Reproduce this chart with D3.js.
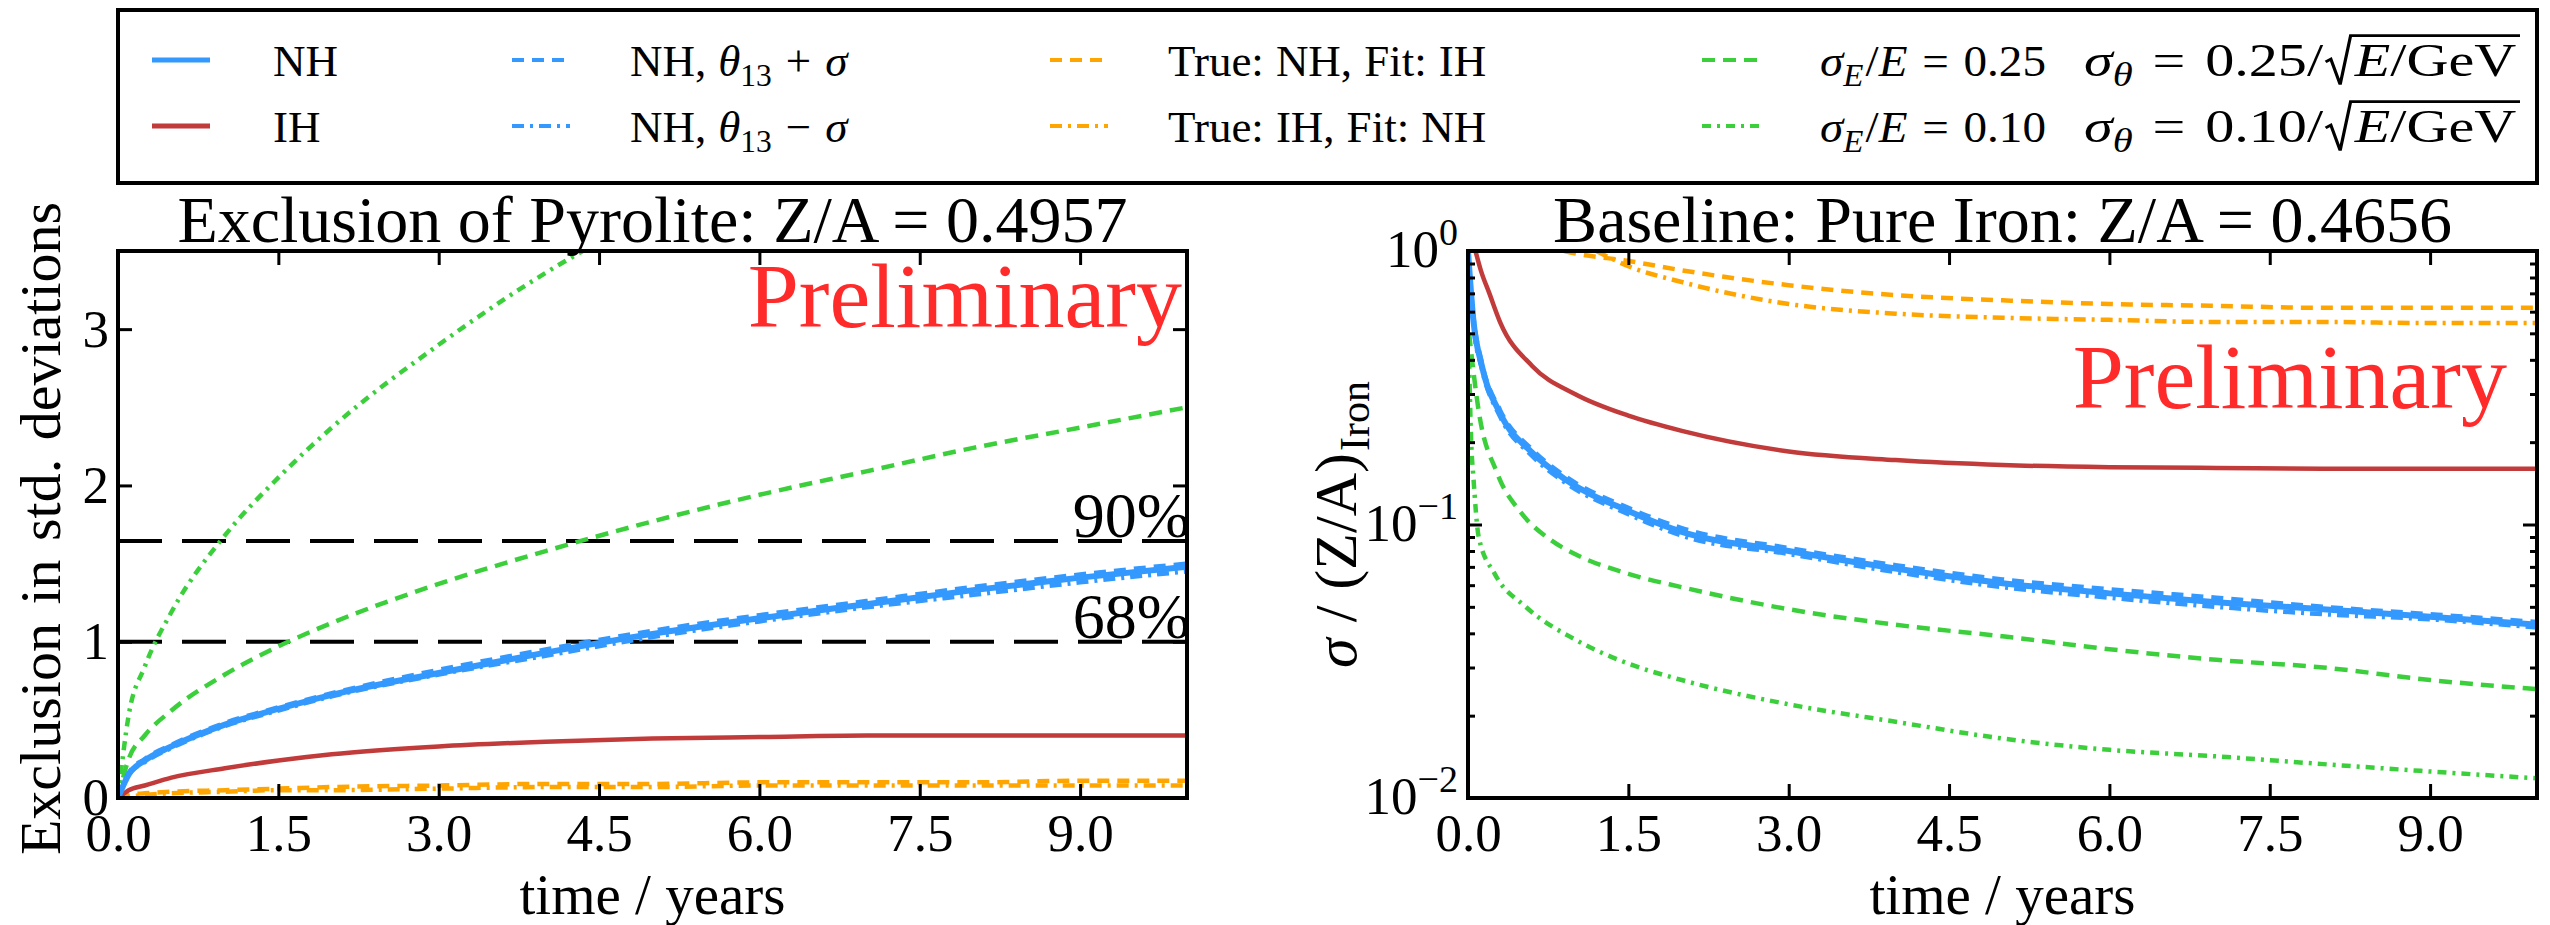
<!DOCTYPE html>
<html><head><meta charset="utf-8">
<script src="https://cdn.jsdelivr.net/npm/d3@7"></script>
<style>
body{margin:0;background:#fff}
svg{display:block}
text{font-family:"Liberation Serif","Tinos","Times New Roman","DejaVu Serif",serif;fill:#000}
</style>
</head><body>
<svg id="c" width="2550" height="925"></svg>
<script>
// ---------------- DATA ----------------
// Left panel: exclusion of pyrolite (std. deviations) vs time (years)
const tLeft = [0, 0.1, 0.25, 0.5, 1, 1.5, 2, 3, 4, 5, 6, 7, 8, 9, 10];
const exclNH        = [0, 0.15, 0.24, 0.33, 0.47, 0.57, 0.66, 0.80, 0.93, 1.05, 1.15, 1.24, 1.33, 1.41, 1.48];
const exclNHplus    = [0, 0.16, 0.25, 0.34, 0.48, 0.58, 0.67, 0.82, 0.95, 1.07, 1.17, 1.26, 1.35, 1.43, 1.50];
const exclNHminus   = [0, 0.15, 0.23, 0.32, 0.46, 0.56, 0.65, 0.79, 0.91, 1.03, 1.13, 1.22, 1.30, 1.38, 1.45];
const exclIH        = [0, 0.05, 0.08, 0.13, 0.19, 0.24, 0.28, 0.33, 0.36, 0.38, 0.39, 0.40, 0.40, 0.40, 0.40];
const exclTrueNHFitIH = [0, 0.02, 0.03, 0.04, 0.05, 0.06, 0.07, 0.08, 0.09, 0.09, 0.10, 0.10, 0.10, 0.11, 0.11];
const exclTrueIHFitNH = [0, 0.01, 0.02, 0.03, 0.04, 0.05, 0.05, 0.06, 0.07, 0.07, 0.08, 0.08, 0.08, 0.08, 0.08];
const exclRes25     = [0, 0.25, 0.40, 0.56, 0.79, 0.97, 1.12, 1.37, 1.58, 1.77, 1.94, 2.09, 2.24, 2.37, 2.50];
const tLeftRes10    = [0, 0.1, 0.25, 0.5, 1, 1.5, 2, 3, 4, 4.5];
const exclRes10     = [0, 0.53, 0.84, 1.19, 1.68, 2.05, 2.37, 2.90, 3.36, 3.56];
const confLevels    = [1.0, 1.645];
const confLabels    = ["68%", "90%"];

// Right panel: sigma / (Z/A)_Iron vs time (years), log scale
const tRightNH  = [0, 0.05, 0.13, 0.3, 0.6, 0.9, 1.5, 2, 3, 4, 5, 6, 7, 8, 9, 10];
const sigNH      = [1.0, 0.56, 0.38, 0.255, 0.183, 0.147, 0.112, 0.094, 0.080, 0.069, 0.061, 0.056, 0.052, 0.049, 0.046, 0.043];
const sigNHplus  = [1.0, 0.58, 0.39, 0.262, 0.188, 0.151, 0.115, 0.097, 0.082, 0.071, 0.063, 0.058, 0.054, 0.050, 0.047, 0.044];
const sigNHminus = [1.0, 0.54, 0.37, 0.248, 0.178, 0.143, 0.109, 0.091, 0.078, 0.067, 0.059, 0.054, 0.050, 0.047, 0.045, 0.042];
const tRightIH  = [0.07, 0.12, 0.2, 0.3, 0.6, 1, 1.5, 2, 3, 4, 5, 6, 7, 8, 9, 10];
const sigIH      = [1.0, 0.85, 0.70, 0.55, 0.38, 0.30, 0.25, 0.22, 0.185, 0.172, 0.165, 0.162, 0.161, 0.160, 0.160, 0.160];
const tRightO1  = [0.9, 1, 1.5, 2, 3, 4, 5, 6, 7, 8, 9, 10];
const sigTrueNHFitIH = [1.0, 0.98, 0.92, 0.85, 0.75, 0.69, 0.66, 0.64, 0.63, 0.62, 0.62, 0.62];
const tRightO2  = [1.2, 1.5, 2, 3, 4, 5, 6, 7, 8, 9, 10];
const sigTrueIHFitNH = [1.0, 0.88, 0.77, 0.64, 0.59, 0.57, 0.56, 0.55, 0.55, 0.545, 0.545];
const tRightG25 = [0.01, 0.1, 0.27, 0.5, 0.77, 1, 1.5, 2, 3, 4, 5, 6, 7, 8, 9, 10];
const sigRes25   = [0.5, 0.26, 0.155, 0.11, 0.088, 0.078, 0.066, 0.059, 0.049, 0.043, 0.039, 0.035, 0.032, 0.030, 0.027, 0.025];
const tRightG10 = [0.01, 0.03, 0.05, 0.1, 0.25, 0.54, 1, 1.5, 2, 3, 4, 5, 6, 7, 8, 9, 10];
const sigRes10   = [0.4, 0.2, 0.15, 0.09, 0.066, 0.050, 0.038, 0.031, 0.027, 0.022, 0.019, 0.0165, 0.015, 0.0142, 0.0133, 0.0125, 0.0118];

const xTicks = [0, 1.5, 3, 4.5, 6, 7.5, 9];
const xTickLabels = ["0.0", "1.5", "3.0", "4.5", "6.0", "7.5", "9.0"];
const yTicksLeft = [0, 1, 2, 3];
const yTicksRight = [0.01, 0.1, 1];
const yTickExpRight = ["\u22122", "\u22121", "0"];

// ---------------- STYLE ----------------
const FONT = "Liberation Serif, Tinos, Times New Roman, DejaVu Serif, serif";
const C = {blue: "#3399ff", red: "#c23b3b", orange: "#ffa500", green: "#3ccf3c", prelim: "#ff2a2a"};
const DASH = {dashed: "12,8", dashdot: "12,6,3,6", g25: "13,8", g10: "9,6,3,6", black: "44,20"};

const svg = d3.select("#c");

function txt(g) { return g.append("text").attr("font-family", FONT); }

// Rich text helper: segments laid out sequentially from x=0 in group g; returns width.
function rich(g, y, segs, size) {
  let cx = 0;
  segs.forEach(s => {
    if (s.root) {
      const t = txt(g).attr("x", cx + size * 0.5).attr("y", y).attr("font-size", size);
      s.root.forEach(r => t.append("tspan").attr("font-style", r.it ? "italic" : "normal").text(r.t));
      const w = t.node().getComputedTextLength();
      const top = y - size * 0.86;
      const p = d3.path();
      p.moveTo(cx, y - size * 0.30);
      p.lineTo(cx + size * 0.09, y - size * 0.36);
      p.lineTo(cx + size * 0.25, y + size * 0.18);
      p.lineTo(cx + size * 0.43, top);
      p.lineTo(cx + size * 0.5 + w + 3, top);
      g.append("path").attr("d", p.toString()).attr("fill", "none").attr("stroke", "#000")
        .attr("stroke-width", 2.6).attr("stroke-linejoin", "miter");
      cx += size * 0.5 + w + 3 + (s.post || 0);
      return;
    }
    const fs = (s.sub || s.sup) ? size * 0.7 : size;
    const dy = s.sub ? size * 0.22 : (s.sup ? -size * 0.42 : 0);
    const t = txt(g).attr("x", cx).attr("y", y + dy).attr("font-size", fs)
      .attr("font-style", s.it ? "italic" : "normal").text(s.t);
    cx += t.node().getComputedTextLength() + (s.post || 0);
  });
  return cx;
}
// place rich text at x; optionally stretch horizontally to a target width (mimics wider math font)
function richAt(parent, x, y, segs, size, target) {
  const g = parent.append("g");
  const w = rich(g, y, segs, size);
  const k = target ? target / w : 1;
  g.attr("transform", `translate(${x},0) scale(${k},1)`);
  return w * k;
}

function panel(P) {
  const x = d3.scaleLinear().domain([0, 10]).range([P.x0, P.x1]);
  const g = svg.append("g");
  const clipId = "clip" + Math.round(P.x0);
  svg.append("clipPath").attr("id", clipId).append("rect")
    .attr("x", P.x0).attr("y", P.y0).attr("width", P.x1 - P.x0).attr("height", P.y1 - P.y0);
  const plot = g.append("g").attr("clip-path", `url(#${clipId})`);
  return {x, g, plot};
}

function drawLine(plot, x, y, ts, vs, color, width, dash) {
  const line = d3.line().x((d, i) => x(ts[i])).y(d => y(d)).curve(d3.curveMonotoneX);
  plot.append("path").datum(vs).attr("d", line).attr("fill", "none")
    .attr("stroke", color).attr("stroke-width", width)
    .attr("stroke-dasharray", dash || null).attr("stroke-linejoin", "round");
}

function styleAxes(ax) {
  ax.selectAll(".domain").remove();
  ax.selectAll(".tick line").attr("stroke", "#000").attr("stroke-width", 3);
  ax.selectAll(".tick text").attr("font-size", TICKFS).attr("font-family", FONT).attr("fill", "#000");
}

const PL = {x0: 118, x1: 1187, y0: 251, y1: 798};
const PR = {x0: 1468, x1: 2537, y0: 251, y1: 798};
const TICK = 14, MINOR = 7, TICKFS = 53;
const LW = 4.5;
const XTITLE_Y = 914, XTITLE_FS = 57;

// ---------- LEFT PANEL ----------
{
  const yL = d3.scaleLinear().domain([0, 3.5]).range([PL.y1, PL.y0]);
  const {x, g, plot} = panel(PL);
  confLevels.forEach(c => {
    plot.append("line").attr("x1", PL.x0).attr("x2", PL.x1).attr("y1", yL(c)).attr("y2", yL(c))
      .attr("stroke", "#000").attr("stroke-width", 4).attr("stroke-dasharray", DASH.black);
  });
  drawLine(plot, x, yL, tLeft, exclTrueIHFitNH, C.orange, LW, DASH.dashdot);
  drawLine(plot, x, yL, tLeft, exclTrueNHFitIH, C.orange, LW, DASH.dashed);
  drawLine(plot, x, yL, tLeft, exclIH, C.red, LW);
  drawLine(plot, x, yL, tLeftRes10, exclRes10, C.green, LW, DASH.g10);
  drawLine(plot, x, yL, tLeft, exclRes25, C.green, LW, DASH.g25);
  drawLine(plot, x, yL, tLeft, exclNH, C.blue, 6);
  drawLine(plot, x, yL, tLeft, exclNHplus, C.blue, LW, DASH.dashed);
  drawLine(plot, x, yL, tLeft, exclNHminus, C.blue, LW, DASH.dashdot);

  confLevels.forEach((c, i) => {
    txt(g).attr("x", PL.x1 + 3).attr("y", yL(c) - 4).attr("text-anchor", "end")
      .attr("font-size", 64).text(confLabels[i]);
  });
  txt(g).attr("x", 1182).attr("y", 327).attr("text-anchor", "end")
    .attr("font-size", 92).style("fill", C.prelim).text("Preliminary");

  const ax = svg.append("g");
  ax.append("g").attr("transform", `translate(0,${PL.y1})`)
    .call(d3.axisBottom(x).tickValues(xTicks).tickFormat((d, i) => xTickLabels[i]).tickSize(-TICK).tickPadding(15));
  ax.append("g").attr("transform", `translate(0,${PL.y0})`)
    .call(d3.axisTop(x).tickValues(xTicks).tickFormat("").tickSize(-TICK));
  ax.append("g").attr("transform", `translate(${PL.x0},0)`)
    .call(d3.axisLeft(yL).tickValues(yTicksLeft).tickFormat(d3.format("d")).tickSize(-TICK).tickPadding(9));
  ax.append("g").attr("transform", `translate(${PL.x1},0)`)
    .call(d3.axisRight(yL).tickValues(yTicksLeft).tickFormat("").tickSize(-TICK));
  styleAxes(ax);
  ax.append("rect").attr("x", PL.x0).attr("y", PL.y0).attr("width", PL.x1 - PL.x0).attr("height", PL.y1 - PL.y0)
    .attr("fill", "none").attr("stroke", "#000").attr("stroke-width", 4);

  txt(svg).attr("x", (PL.x0 + PL.x1) / 2).attr("y", 242).attr("text-anchor", "middle")
    .attr("font-size", 66).text("Exclusion of Pyrolite: Z/A = 0.4957");
  txt(svg).attr("x", (PL.x0 + PL.x1) / 2).attr("y", XTITLE_Y).attr("text-anchor", "middle")
    .attr("font-size", XTITLE_FS).text("time / years");
  txt(svg).attr("transform", `translate(60,${(PL.y0 + PL.y1) / 2 + 4}) rotate(-90)`)
    .attr("text-anchor", "middle").attr("font-size", 58).attr("word-spacing", 4)
    .text("Exclusion in std. deviations");
}

// ---------- RIGHT PANEL ----------
{
  const yR = d3.scaleLog().domain([0.01, 1]).range([PR.y1, PR.y0]);
  const {x, g, plot} = panel(PR);
  drawLine(plot, x, yR, tRightO2, sigTrueIHFitNH, C.orange, LW, DASH.dashdot);
  drawLine(plot, x, yR, tRightO1, sigTrueNHFitIH, C.orange, LW, DASH.dashed);
  drawLine(plot, x, yR, tRightIH, sigIH, C.red, LW);
  drawLine(plot, x, yR, tRightG10, sigRes10, C.green, LW, DASH.g10);
  drawLine(plot, x, yR, tRightG25, sigRes25, C.green, LW, DASH.g25);
  drawLine(plot, x, yR, tRightNH, sigNH, C.blue, 6);
  drawLine(plot, x, yR, tRightNH, sigNHplus, C.blue, LW, DASH.dashed);
  drawLine(plot, x, yR, tRightNH, sigNHminus, C.blue, LW, DASH.dashdot);

  txt(g).attr("x", 2507).attr("y", 408).attr("text-anchor", "end")
    .attr("font-size", 92).style("fill", C.prelim).text("Preliminary");

  const ax = svg.append("g");
  ax.append("g").attr("transform", `translate(0,${PR.y1})`)
    .call(d3.axisBottom(x).tickValues(xTicks).tickFormat((d, i) => xTickLabels[i]).tickSize(-TICK).tickPadding(15));
  ax.append("g").attr("transform", `translate(0,${PR.y0})`)
    .call(d3.axisTop(x).tickValues(xTicks).tickFormat("").tickSize(-TICK));
  const minors = [];
  [0.01, 0.1].forEach(b => { for (let k = 2; k <= 9; k++) minors.push(b * k); });
  [PR.x0, PR.x1].forEach((xx, side) => {
    const mk = () => side === 0 ? d3.axisLeft(yR) : d3.axisRight(yR);
    ax.append("g").attr("transform", `translate(${xx},0)`)
      .call(mk().tickValues(yTicksRight).tickFormat("").tickSize(-TICK));
    ax.append("g").attr("transform", `translate(${xx},0)`)
      .call(mk().tickValues(minors).tickFormat("").tickSize(-MINOR));
  });
  styleAxes(ax);
  yTicksRight.forEach((v, i) => {
    const t = txt(ax).attr("x", PR.x0 - 10).attr("y", yR(v) + 16)
      .attr("text-anchor", "end").attr("font-size", TICKFS);
    t.append("tspan").text("10");
    t.append("tspan").attr("dy", -22).attr("font-size", 38).text(yTickExpRight[i]);
  });
  ax.append("rect").attr("x", PR.x0).attr("y", PR.y0).attr("width", PR.x1 - PR.x0).attr("height", PR.y1 - PR.y0)
    .attr("fill", "none").attr("stroke", "#000").attr("stroke-width", 4);

  txt(svg).attr("x", (PR.x0 + PR.x1) / 2).attr("y", 242).attr("text-anchor", "middle")
    .attr("font-size", 66).text("Baseline: Pure Iron: Z/A = 0.4656");
  txt(svg).attr("x", (PR.x0 + PR.x1) / 2).attr("y", XTITLE_Y).attr("text-anchor", "middle")
    .attr("font-size", XTITLE_FS).text("time / years");
  const yl = svg.append("g");
  const w = rich(yl, 0, [
    {t: "\u03C3", it: true, post: 16}, {t: "/", post: 16}, {t: "(Z/A)", post: 2}, {t: "Iron", sub: true}
  ], 60);
  yl.attr("transform", `translate(1356,${(PR.y0 + PR.y1) / 2 + w / 2}) rotate(-90)`);
}

// ---------- LEGEND ----------
{
  const lg = svg.append("g");
  lg.append("rect").attr("x", 118).attr("y", 10).attr("width", 2537 - 118).attr("height", 173)
    .attr("fill", "#fff").attr("stroke", "#000").attr("stroke-width", 4);
  const rows = [60, 126];
  const FS = 45;
  const HL = 58; // handle length
  const items = [
    {x: 152, tx: 273, row: 0, color: C.blue, dash: null, w: 5, label: [{t: "NH"}]},
    {x: 152, tx: 273, row: 1, color: C.red, dash: null, w: 5, label: [{t: "IH"}]},
    {x: 512, tx: 630, row: 0, color: C.blue, dash: DASH.dashed, w: 4, label: [{t: "NH,", post: 12}, {t: "\u03B8", it: true}, {t: "13", sub: true, post: 14}, {t: "+", post: 14}, {t: "\u03C3", it: true}]},
    {x: 512, tx: 630, row: 1, color: C.blue, dash: DASH.dashdot, w: 4, label: [{t: "NH,", post: 12}, {t: "\u03B8", it: true}, {t: "13", sub: true, post: 14}, {t: "\u2212", post: 14}, {t: "\u03C3", it: true}]},
    {x: 1050, tx: 1168, row: 0, color: C.orange, dash: DASH.dashed, w: 4, label: [{t: "True:", post: 12}, {t: "NH,", post: 12}, {t: "Fit:", post: 12}, {t: "IH"}]},
    {x: 1050, tx: 1168, row: 1, color: C.orange, dash: DASH.dashdot, w: 4, label: [{t: "True:", post: 12}, {t: "IH,", post: 12}, {t: "Fit:", post: 12}, {t: "NH"}]},
    {x: 1702, tx: 1820, row: 0, color: C.green, dash: DASH.g25, w: 4, val: "0.25"},
    {x: 1702, tx: 1820, row: 1, color: C.green, dash: DASH.g10, w: 4, val: "0.10"}
  ];
  items.forEach(it => {
    const y = rows[it.row];
    lg.append("line").attr("x1", it.x).attr("x2", it.x + HL).attr("y1", y).attr("y2", y)
      .attr("stroke", it.color).attr("stroke-width", it.w).attr("stroke-dasharray", it.dash);
    if (it.label) {
      richAt(lg, it.tx, y + 16, it.label, FS);
    } else {
      richAt(lg, it.tx, y + 16, [
        {t: "\u03C3", it: true}, {t: "E", it: true, sub: true, post: 2}, {t: "/"}, {t: "E", it: true, post: 14},
        {t: "=", post: 14}, {t: it.val}
      ], FS, 226);
      richAt(lg, 2084, y + 16, [
        {t: "\u03C3", it: true}, {t: "\u03B8", it: true, sub: true, post: 16},
        {t: "=", post: 16}, {t: it.val + "/", post: 2},
        {root: [{t: "E", it: true}, {t: "/GeV"}]}
      ], FS + 2, 436);
    }
  });
}
</script>
</body></html>
